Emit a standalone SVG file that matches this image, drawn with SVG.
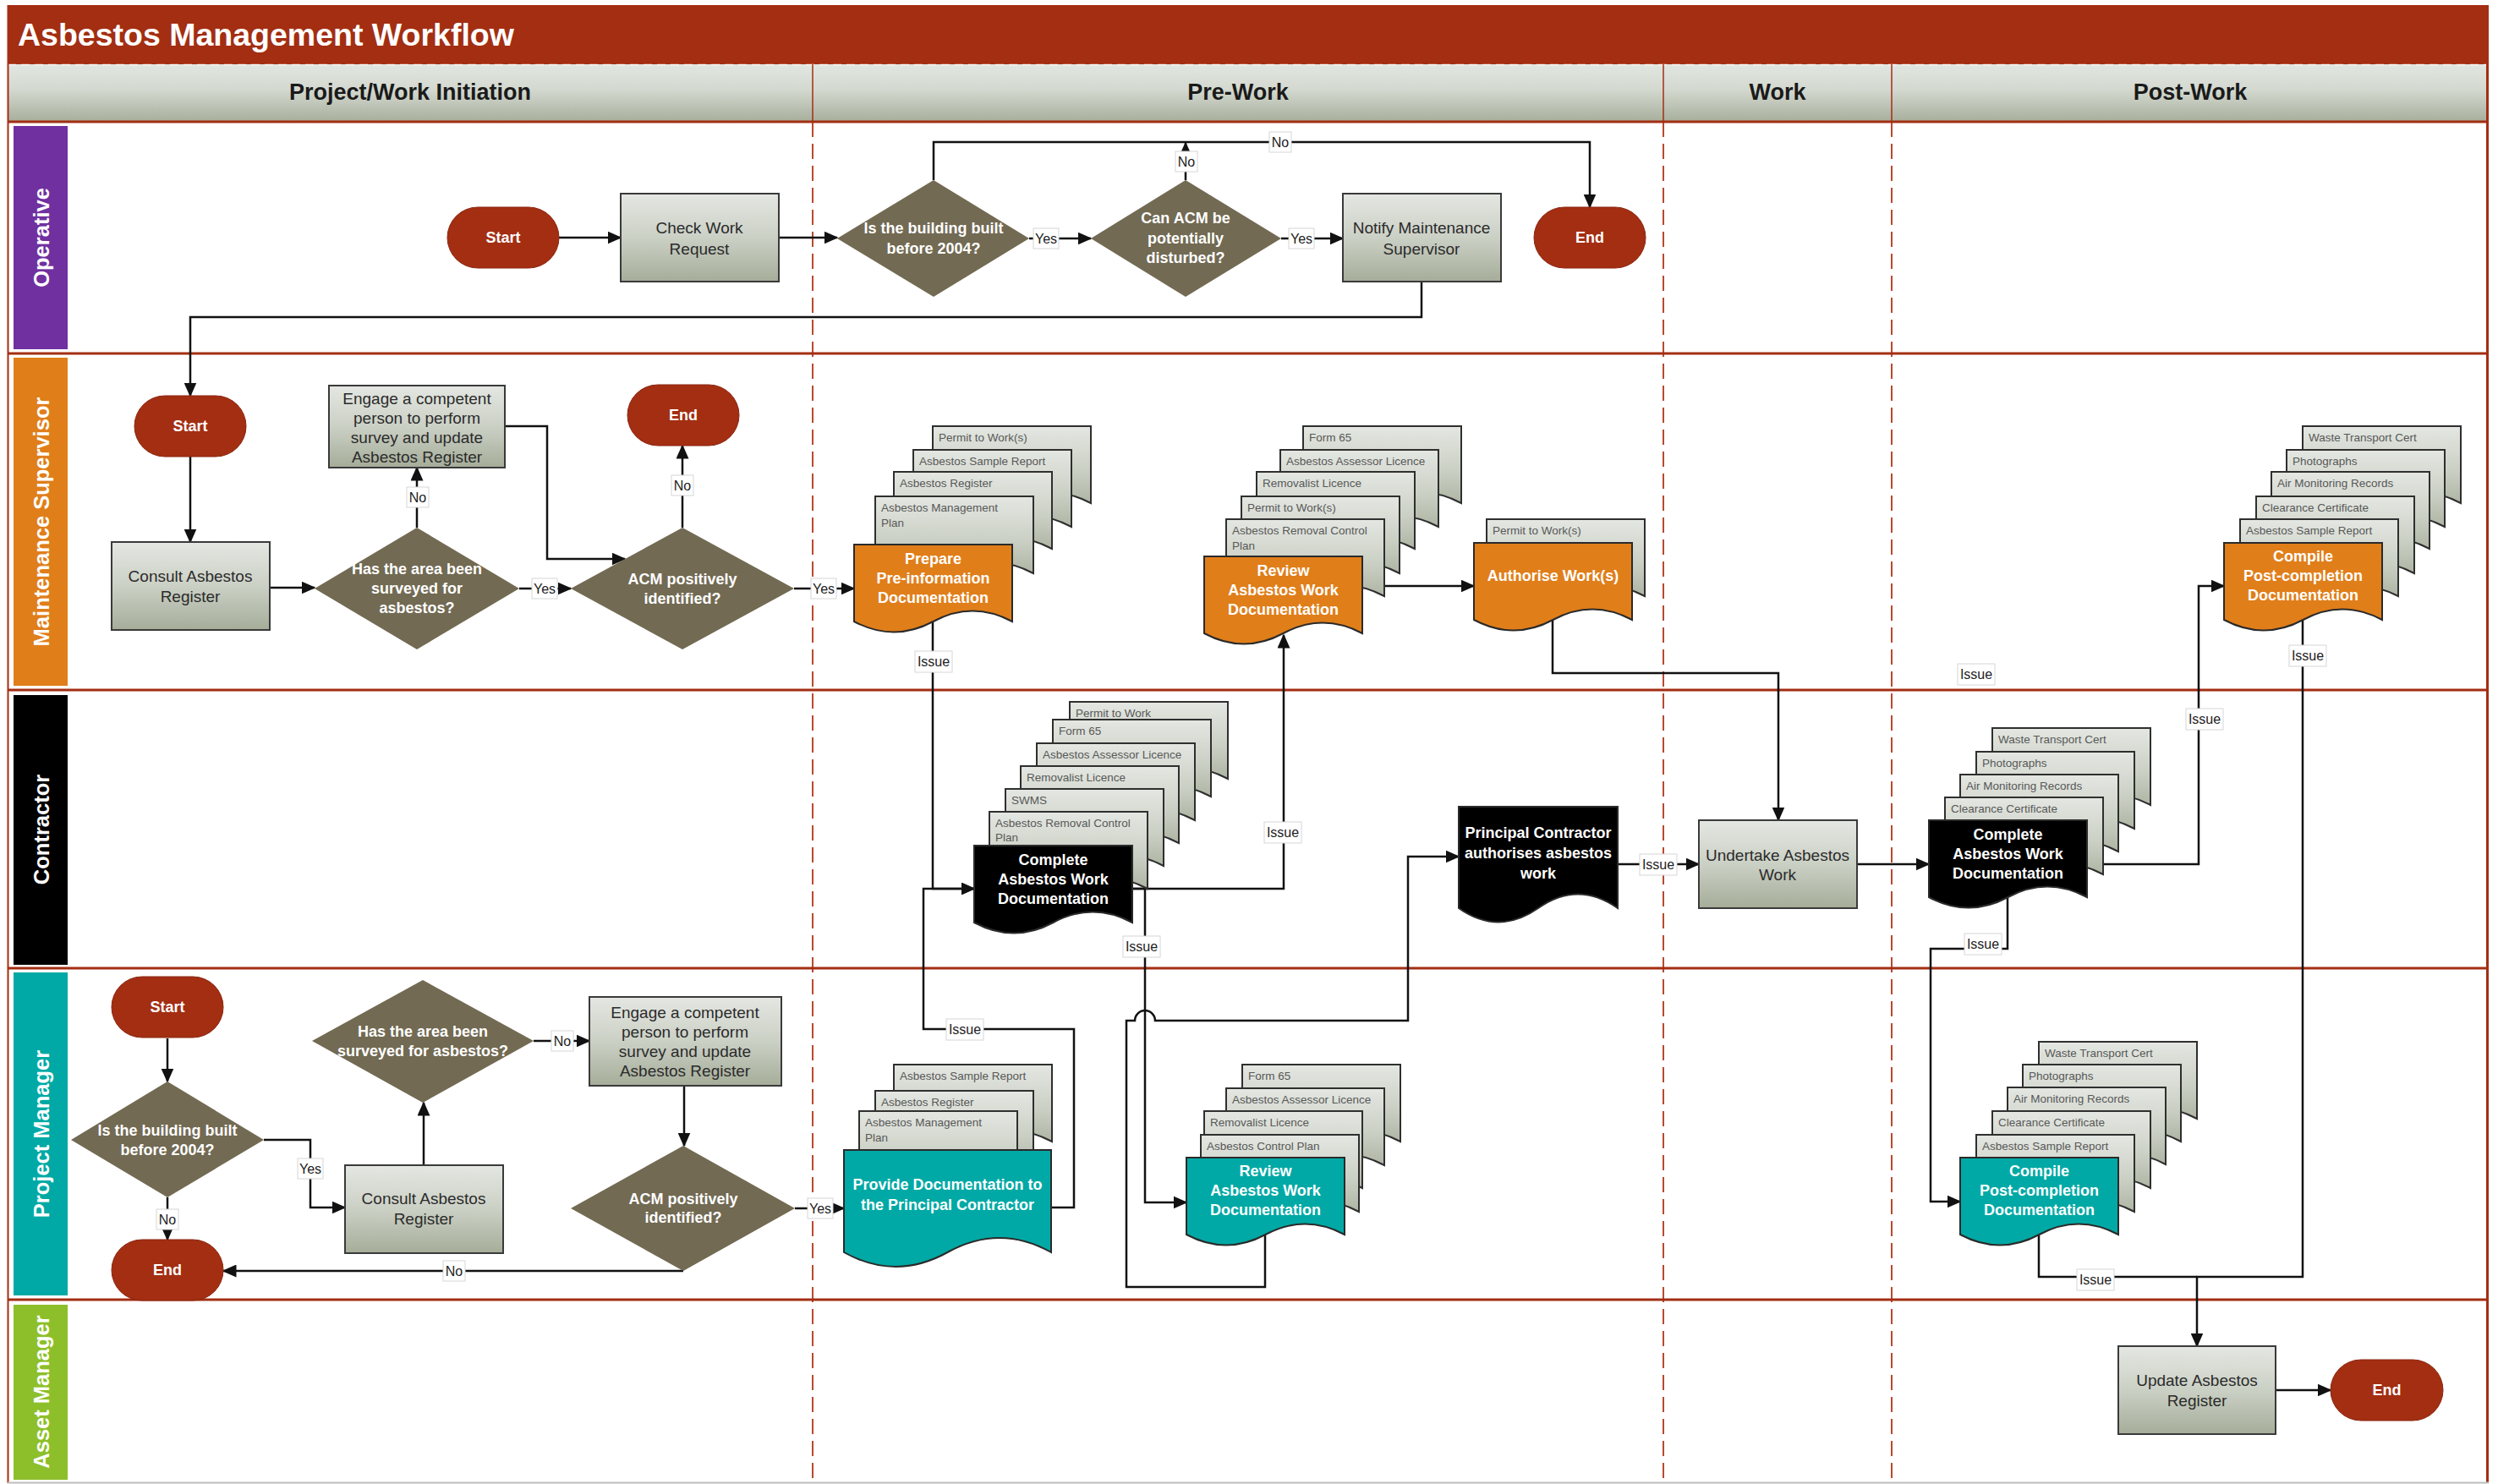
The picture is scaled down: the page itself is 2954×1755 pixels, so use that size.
<svg xmlns="http://www.w3.org/2000/svg" width="2954" height="1755" viewBox="0 0 2954 1755">
<defs>
<linearGradient id="gBox" x1="0" y1="0" x2="0" y2="1"><stop offset="0" stop-color="#E4E7E2"/><stop offset="0.5" stop-color="#CBD0C5"/><stop offset="1" stop-color="#A5AD99"/></linearGradient>
<linearGradient id="gHead" x1="0" y1="0" x2="0" y2="1"><stop offset="0" stop-color="#E2E6E1"/><stop offset="0.45" stop-color="#D3D8CF"/><stop offset="1" stop-color="#A7AE9B"/></linearGradient>
<marker id="ah" viewBox="0 0 17 15" refX="15.5" refY="7.5" markerWidth="17" markerHeight="15" markerUnits="userSpaceOnUse" orient="auto"><path d="M0,0 L17,7.5 L0,15 z" fill="#111"/></marker>
<path id="pg" d="M0,0 H187 V91 Q140,66 93.5,91 T0,91 Z"/>
<path id="docP" d="M0,0 H188 V120 Q141,87 94,120 T0,120 Z"/>
<path id="docW" d="M0,0 H245 V121 Q184,87 122.5,121 T0,121 Z"/>
<style>
text{font-family:'Liberation Sans',Arial,sans-serif}
.title{font-size:37.5px;font-weight:bold;fill:#fff}
.hd{font-size:27px;font-weight:bold;fill:#1a1a1a;text-anchor:middle}
.lane{font-size:25.5px;font-weight:bold;fill:#fff;text-anchor:middle;dominant-baseline:central}
.tb{font-size:19px;fill:#2b2b2b;text-anchor:middle;dominant-baseline:central}
.tw{font-size:18px;font-weight:bold;fill:#fff;text-anchor:middle;dominant-baseline:central}
.tp{font-size:13.5px;fill:#585858}
.tl{font-size:16px;fill:#222;text-anchor:middle;dominant-baseline:central}
.box{fill:url(#gBox);stroke:#3a3a3a;stroke-width:2}
.pg{fill:url(#gBox);stroke:#2f2f2f;stroke-width:2}
.dia{fill:#726A53}
.term{fill:#A32E12;stroke:#8a2510;stroke-width:1}
.or{fill:#E07E1A;stroke:#2a2a2a;stroke-width:2}
.bk{fill:#000;stroke:#2a2a2a;stroke-width:2}
.tl2{fill:#00A9A5;stroke:#2a2a2a;stroke-width:2}
.conn{fill:none;stroke:#111;stroke-width:2.5}
.arr{marker-end:url(#ah)}
.lb{fill:#fff;stroke:#d6d6d6;stroke-width:1}
.lanel{stroke:#A32E12;stroke-width:3}
.dash{stroke:#B9492F;stroke-width:2;stroke-dasharray:18 8}
</style>
</defs>

<!-- frame -->
<rect x="0" y="0" width="2954" height="1755" fill="#fff"/>
<rect x="9" y="6" width="2934" height="70" fill="#A32E12"/>
<text class="title" x="21" y="54">Asbestos Management Workflow</text>
<rect x="9" y="76" width="2934" height="68" fill="url(#gHead)"/>
<line x1="9" y1="76.5" x2="2943" y2="76.5" stroke="#fff" stroke-width="1.5" stroke-dasharray="10 6" opacity="0.8"/>
<g stroke="#A32E12" stroke-width="1.5">
<line x1="961" y1="76" x2="961" y2="144"/><line x1="1967" y1="76" x2="1967" y2="144"/><line x1="2237" y1="76" x2="2237" y2="144"/>
</g>
<text class="hd" x="485" y="118">Project/Work Initiation</text>
<text class="hd" x="1464" y="118">Pre-Work</text>
<text class="hd" x="2102" y="118">Work</text>
<text class="hd" x="2590" y="118">Post-Work</text>
<g class="dash">
<line x1="961" y1="144" x2="961" y2="1753"/><line x1="1967" y1="144" x2="1967" y2="1753"/><line x1="2237" y1="144" x2="2237" y2="1753"/>
</g>
<g class="lanel">
<line x1="9" y1="144" x2="2943" y2="144"/>
<line x1="9" y1="418" x2="2943" y2="418"/>
<line x1="9" y1="816" x2="2943" y2="816"/>
<line x1="9" y1="1145" x2="2943" y2="1145"/>
<line x1="9" y1="1537" x2="2943" y2="1537"/>
<line x1="2941.5" y1="6" x2="2941.5" y2="1753"/>
</g>
<line x1="9.5" y1="6" x2="9.5" y2="1754" stroke="#A32E12" stroke-width="2"/>
<line x1="9" y1="1753.5" x2="2943" y2="1753.5" stroke="#bdbdbd" stroke-width="2"/>
<rect x="16" y="149" width="64" height="264" fill="#7030A0"/>
<rect x="16" y="423" width="64" height="388" fill="#E07E1A"/>
<rect x="16" y="822" width="64" height="319" fill="#000"/>
<rect x="16" y="1150" width="64" height="382" fill="#00A9A5"/>
<rect x="16" y="1543" width="64" height="207" fill="#8DBF2A"/>
<text class="lane" transform="translate(49 281) rotate(-90)">Operative</text>
<text class="lane" transform="translate(49 617) rotate(-90)">Maintenance Supervisor</text>
<text class="lane" transform="translate(49 981) rotate(-90)">Contractor</text>
<text class="lane" transform="translate(49 1341) rotate(-90)">Project Manager</text>
<text class="lane" transform="translate(49 1646) rotate(-90)">Asset Manager</text>

<!-- connectors -->
<g id="connectors">
<path class="conn arr" d="M661,281 H734"/>
<path class="conn arr" d="M921,281 H990"/>
<path class="conn arr" d="M1217,282 H1290"/>
<path class="conn arr" d="M1515,282 H1588"/>
<path class="conn arr" d="M1104,213 V168 H1880 V245"/>
<path class="conn arr" d="M1402,213 V169"/>
<path class="conn arr" d="M1681,333 V375 H225 V468"/>
<path class="conn arr" d="M225,540 V641"/>
<path class="conn arr" d="M319,695 H372"/>
<path class="conn arr" d="M493,624 V553"/>
<path class="conn arr" d="M614,696 H675"/>
<path class="conn arr" d="M597,504 H647 V661 H739"/>
<path class="conn arr" d="M807,624 V527"/>
<path class="conn arr" d="M939,696 H1010"/>
<path class="conn arr" d="M1103,735 V1051 H1152"/>
<path class="conn arr" d="M1611,693 H1743"/>
<path class="conn arr" d="M1836,733 V796 H2103 V970"/>
<path class="conn arr" d="M1339,1051 H1518 V751"/>
<path class="conn arr" d="M1339,1051 H1354 V1422 H1403"/>
<path class="conn arr" d="M1496,1457 V1522 H1332 V1207 H1342 A12,12 0 0 1 1366,1207 H1665 V1013 H1725"/>
<path class="conn arr" d="M1913,1022 H2009"/>
<path class="conn arr" d="M2196,1022 H2281"/>
<path class="conn arr" d="M2468,1022 H2600 V693 H2630"/>
<path class="conn arr" d="M2374,1061 V1122 H2283 V1421 H2318"/>
<path class="conn arr" d="M2723,733 V1510 H2598 V1592"/>
<path class="conn" d="M2411,1460 V1510 H2598"/>
<path class="conn arr" d="M2690,1644 H2756"/>
<path class="conn arr" d="M198,1228 V1279"/>
<path class="conn arr" d="M198,1416 V1466"/>
<path class="conn arr" d="M312,1348 H367 V1428 H408"/>
<path class="conn arr" d="M501,1378 V1304"/>
<path class="conn arr" d="M631,1231 H697"/>
<path class="conn arr" d="M809,1284 V1355"/>
<path class="conn arr" d="M808,1503 H264"/>
<path class="conn arr" d="M940,1429 H998"/>
<path class="conn arr" d="M1243,1428 H1270 V1217 H1092 V1051 H1152"/>
<!-- labels -->
<rect class="lb" x="1222" y="270" width="30" height="24"/><text class="tl" x="1237" y="282">Yes</text>
<rect class="lb" x="1390" y="179" width="26" height="24"/><text class="tl" x="1403" y="191">No</text>
<rect class="lb" x="1501" y="156" width="26" height="24"/><text class="tl" x="1514" y="168">No</text>
<rect class="lb" x="1524" y="270" width="30" height="24"/><text class="tl" x="1539" y="282">Yes</text>
<rect class="lb" x="481" y="576" width="26" height="24"/><text class="tl" x="494" y="588">No</text>
<rect class="lb" x="629" y="684" width="30" height="24"/><text class="tl" x="644" y="696">Yes</text>
<rect class="lb" x="794" y="562" width="26" height="24"/><text class="tl" x="807" y="574">No</text>
<rect class="lb" x="959" y="684" width="30" height="24"/><text class="tl" x="974" y="696">Yes</text>
<rect class="lb" x="1082" y="770" width="44" height="25"/><text class="tl" x="1104" y="782">Issue</text>
<rect class="lb" x="1495" y="972" width="44" height="25"/><text class="tl" x="1517" y="984">Issue</text>
<rect class="lb" x="1328" y="1107" width="44" height="25"/><text class="tl" x="1350" y="1119">Issue</text>
<rect class="lb" x="1939" y="1010" width="44" height="25"/><text class="tl" x="1961" y="1022">Issue</text>
<rect class="lb" x="2585" y="838" width="44" height="25"/><text class="tl" x="2607" y="850">Issue</text>
<rect class="lb" x="2707" y="763" width="44" height="25"/><text class="tl" x="2729" y="775">Issue</text>
<rect class="lb" x="2315" y="785" width="44" height="25"/><text class="tl" x="2337" y="797">Issue</text>
<rect class="lb" x="2323" y="1104" width="44" height="25"/><text class="tl" x="2345" y="1116">Issue</text>
<rect class="lb" x="2456" y="1501" width="44" height="25"/><text class="tl" x="2478" y="1513">Issue</text>
<rect class="lb" x="185" y="1430" width="26" height="24"/><text class="tl" x="198" y="1442">No</text>
<rect class="lb" x="352" y="1370" width="30" height="24"/><text class="tl" x="367" y="1382">Yes</text>
<rect class="lb" x="652" y="1219" width="26" height="24"/><text class="tl" x="665" y="1231">No</text>
<rect class="lb" x="524" y="1491" width="26" height="24"/><text class="tl" x="537" y="1503">No</text>
<rect class="lb" x="955" y="1417" width="30" height="24"/><text class="tl" x="970" y="1429">Yes</text>
<rect class="lb" x="1119" y="1205" width="44" height="25"/><text class="tl" x="1141" y="1217">Issue</text>
</g>

<!-- Operative -->
<g id="op-start"><rect class="term" x="529" y="245" width="132" height="72" rx="36"/><text class="tw" x="595" y="281">Start</text></g>
<g id="op-check"><rect class="box" x="734" y="229" width="187" height="104"/><text class="tb"><tspan x="827" y="269">Check Work</tspan><tspan x="827" y="294">Request</tspan></text></g>
<g id="op-q1"><polygon class="dia" points="990,282 1104,213 1217,282 1104,351"/><text class="tw"><tspan x="1104" y="270">Is the building built</tspan><tspan x="1104" y="294">before 2004?</tspan></text></g>
<g id="op-q2"><polygon class="dia" points="1290,282 1402,213 1515,282 1402,351"/><text class="tw"><tspan x="1402" y="258">Can ACM be</tspan><tspan x="1402" y="282">potentially</tspan><tspan x="1402" y="305">disturbed?</tspan></text></g>
<g id="op-notify"><rect class="box" x="1588" y="229" width="187" height="104"/><text class="tb"><tspan x="1681" y="269">Notify Maintenance</tspan><tspan x="1681" y="294">Supervisor</tspan></text></g>
<g id="op-end"><rect class="term" x="1814" y="245" width="132" height="72" rx="36"/><text class="tw" x="1880" y="281">End</text></g>

<!-- Maintenance Supervisor -->
<g id="ms-start"><rect class="term" x="159" y="468" width="132" height="72" rx="36"/><text class="tw" x="225" y="504">Start</text></g>
<g id="ms-engage"><rect class="box" x="389" y="456" width="208" height="97"/><text class="tb"><tspan x="493" y="471">Engage a competent</tspan><tspan x="493" y="494">person to perform</tspan><tspan x="493" y="517">survey and update</tspan><tspan x="493" y="540">Asbestos Register</tspan></text></g>
<g id="ms-consult"><rect class="box" x="132" y="641" width="187" height="104"/><text class="tb"><tspan x="225" y="681">Consult Asbestos</tspan><tspan x="225" y="705">Register</tspan></text></g>
<g id="ms-q1"><polygon class="dia" points="372,696 493,624 614,696 493,768"/><text class="tw"><tspan x="493" y="673">Has the area been</tspan><tspan x="493" y="696">surveyed for</tspan><tspan x="493" y="719">asbestos?</tspan></text></g>
<g id="ms-end"><rect class="term" x="742" y="455" width="132" height="72" rx="36"/><text class="tw" x="808" y="491">End</text></g>
<g id="ms-q2"><polygon class="dia" points="675,696 807,624 939,696 807,768"/><text class="tw"><tspan x="807" y="685">ACM positively</tspan><tspan x="807" y="708">identified?</tspan></text></g>
<g id="ms-prepare">
<use href="#pg" class="pg" x="1103" y="504"/><text class="tp" x="1110" y="522">Permit to Work(s)</text>
<use href="#pg" class="pg" x="1080" y="532"/><text class="tp" x="1087" y="550">Asbestos Sample Report</text>
<use href="#pg" class="pg" x="1057" y="558"/><text class="tp" x="1064" y="576">Asbestos Register</text>
<use href="#pg" class="pg" x="1035" y="587"/><text class="tp" x="1042" y="605">Asbestos Management<tspan x="1042" dy="18">Plan</tspan></text>
<use href="#pg" class="or" x="1010" y="644"/>
<text class="tw"><tspan x="1103.5" y="661">Prepare</tspan><tspan x="1103.5" y="684">Pre-information</tspan><tspan x="1103.5" y="707">Documentation</tspan></text>
</g>
<g id="ms-review">
<use href="#pg" class="pg" x="1541" y="504"/><text class="tp" x="1548" y="522">Form 65</text>
<use href="#pg" class="pg" x="1514" y="532"/><text class="tp" x="1521" y="550">Asbestos Assessor Licence</text>
<use href="#pg" class="pg" x="1486" y="558"/><text class="tp" x="1493" y="576">Removalist Licence</text>
<use href="#pg" class="pg" x="1468" y="587"/><text class="tp" x="1475" y="605">Permit to Work(s)</text>
<use href="#pg" class="pg" x="1450" y="614"/><text class="tp" x="1457" y="632">Asbestos Removal Control<tspan x="1457" dy="18">Plan</tspan></text>
<use href="#pg" class="or" x="1424" y="658"/>
<text class="tw"><tspan x="1517.5" y="675">Review</tspan><tspan x="1517.5" y="698">Asbestos Work</tspan><tspan x="1517.5" y="721">Documentation</tspan></text>
</g>
<g id="ms-authorise">
<use href="#pg" class="pg" x="1758" y="614"/><text class="tp" x="1765" y="632">Permit to Work(s)</text>
<use href="#pg" class="or" x="1743" y="642"/>
<text class="tw" x="1836.5" y="681">Authorise Work(s)</text>
</g>
<g id="ms-compile">
<use href="#pg" class="pg" x="2723" y="504"/><text class="tp" x="2730" y="522">Waste Transport Cert</text>
<use href="#pg" class="pg" x="2704" y="532"/><text class="tp" x="2711" y="550">Photographs</text>
<use href="#pg" class="pg" x="2686" y="558"/><text class="tp" x="2693" y="576">Air Monitoring Records</text>
<use href="#pg" class="pg" x="2668" y="587"/><text class="tp" x="2675" y="605">Clearance Certificate</text>
<use href="#pg" class="pg" x="2649" y="614"/><text class="tp" x="2656" y="632">Asbestos Sample Report</text>
<use href="#pg" class="or" x="2630" y="642"/>
<text class="tw"><tspan x="2723.5" y="658">Compile</tspan><tspan x="2723.5" y="681">Post-completion</tspan><tspan x="2723.5" y="704">Documentation</tspan></text>
</g>

<!-- Contractor -->
<g id="c-complete">
<use href="#pg" class="pg" x="1265" y="830"/><text class="tp" x="1272" y="848">Permit to Work</text>
<use href="#pg" class="pg" x="1245" y="851"/><text class="tp" x="1252" y="869">Form 65</text>
<use href="#pg" class="pg" x="1226" y="879"/><text class="tp" x="1233" y="897">Asbestos Assessor Licence</text>
<use href="#pg" class="pg" x="1207" y="906"/><text class="tp" x="1214" y="924">Removalist Licence</text>
<use href="#pg" class="pg" x="1189" y="933"/><text class="tp" x="1196" y="951">SWMS</text>
<use href="#pg" class="pg" x="1170" y="960"/><text class="tp" x="1177" y="978">Asbestos Removal Control<tspan x="1177" dy="17">Plan</tspan></text>
<use href="#pg" class="bk" x="1152" y="1000"/>
<text class="tw"><tspan x="1245.5" y="1017">Complete</tspan><tspan x="1245.5" y="1040">Asbestos Work</tspan><tspan x="1245.5" y="1063">Documentation</tspan></text>
</g>
<g id="c-principal">
<use href="#docP" class="bk" x="1725" y="954"/>
<text class="tw"><tspan x="1819" y="985">Principal Contractor</tspan><tspan x="1819" y="1009">authorises asbestos</tspan><tspan x="1819" y="1033">work</tspan></text>
</g>
<g id="c-undertake"><rect class="box" x="2009" y="970" width="187" height="104"/><text class="tb"><tspan x="2102" y="1011">Undertake Asbestos</tspan><tspan x="2102" y="1034">Work</tspan></text></g>
<g id="c-complete-post">
<use href="#pg" class="pg" x="2356" y="861"/><text class="tp" x="2363" y="879">Waste Transport Cert</text>
<use href="#pg" class="pg" x="2337" y="889"/><text class="tp" x="2344" y="907">Photographs</text>
<use href="#pg" class="pg" x="2318" y="916"/><text class="tp" x="2325" y="934">Air Monitoring Records</text>
<use href="#pg" class="pg" x="2300" y="943"/><text class="tp" x="2307" y="961">Clearance Certificate</text>
<use href="#pg" class="bk" x="2281" y="970"/>
<text class="tw"><tspan x="2374.5" y="987">Complete</tspan><tspan x="2374.5" y="1010">Asbestos Work</tspan><tspan x="2374.5" y="1033">Documentation</tspan></text>
</g>

<!-- Project Manager -->
<g id="pm-start"><rect class="term" x="132" y="1155" width="132" height="72" rx="36"/><text class="tw" x="198" y="1191">Start</text></g>
<g id="pm-q1"><polygon class="dia" points="84,1348 198,1279 312,1348 198,1416"/><text class="tw"><tspan x="198" y="1337">Is the building built</tspan><tspan x="198" y="1360">before 2004?</tspan></text></g>
<g id="pm-end"><rect class="term" x="132" y="1466" width="132" height="72" rx="36"/><text class="tw" x="198" y="1502">End</text></g>
<g id="pm-consult"><rect class="box" x="408" y="1378" width="187" height="104"/><text class="tb"><tspan x="501" y="1417">Consult Asbestos</tspan><tspan x="501" y="1441">Register</tspan></text></g>
<g id="pm-q2"><polygon class="dia" points="369,1231 500,1159 631,1231 500,1304"/><text class="tw"><tspan x="500" y="1220">Has the area been</tspan><tspan x="500" y="1243">surveyed for asbestos?</tspan></text></g>
<g id="pm-engage"><rect class="box" x="697" y="1179" width="227" height="105"/><text class="tb"><tspan x="810" y="1197">Engage a competent</tspan><tspan x="810" y="1220">person to perform</tspan><tspan x="810" y="1243">survey and update</tspan><tspan x="810" y="1266">Asbestos Register</tspan></text></g>
<g id="pm-q3"><polygon class="dia" points="675,1429 808,1355 940,1429 808,1503"/><text class="tw"><tspan x="808" y="1418">ACM positively</tspan><tspan x="808" y="1440">identified?</tspan></text></g>
<g id="pm-provide">
<use href="#pg" class="pg" x="1057" y="1259"/><text class="tp" x="1064" y="1277">Asbestos Sample Report</text>
<use href="#pg" class="pg" x="1035" y="1290"/><text class="tp" x="1042" y="1308">Asbestos Register</text>
<use href="#pg" class="pg" x="1016" y="1314"/><text class="tp" x="1023" y="1332">Asbestos Management<tspan x="1023" dy="18">Plan</tspan></text>
<use href="#docW" class="tl2" x="998" y="1360"/>
<text class="tw"><tspan x="1120.5" y="1401">Provide Documentation to</tspan><tspan x="1120.5" y="1425">the Principal Contractor</tspan></text>
</g>
<g id="pm-review">
<use href="#pg" class="pg" x="1469" y="1259"/><text class="tp" x="1476" y="1277">Form 65</text>
<use href="#pg" class="pg" x="1450" y="1287"/><text class="tp" x="1457" y="1305">Asbestos Assessor Licence</text>
<use href="#pg" class="pg" x="1424" y="1314"/><text class="tp" x="1431" y="1332">Removalist Licence</text>
<use href="#pg" class="pg" x="1420" y="1342"/><text class="tp" x="1427" y="1360">Asbestos Control Plan</text>
<use href="#pg" class="tl2" x="1403" y="1369"/>
<text class="tw"><tspan x="1496.5" y="1385">Review</tspan><tspan x="1496.5" y="1408">Asbestos Work</tspan><tspan x="1496.5" y="1431">Documentation</tspan></text>
</g>
<g id="pm-compile">
<use href="#pg" class="pg" x="2411" y="1232"/><text class="tp" x="2418" y="1250">Waste Transport Cert</text>
<use href="#pg" class="pg" x="2392" y="1259"/><text class="tp" x="2399" y="1277">Photographs</text>
<use href="#pg" class="pg" x="2374" y="1286"/><text class="tp" x="2381" y="1304">Air Monitoring Records</text>
<use href="#pg" class="pg" x="2356" y="1314"/><text class="tp" x="2363" y="1332">Clearance Certificate</text>
<use href="#pg" class="pg" x="2337" y="1342"/><text class="tp" x="2344" y="1360">Asbestos Sample Report</text>
<use href="#pg" class="tl2" x="2318" y="1369"/>
<text class="tw"><tspan x="2411.5" y="1385">Compile</tspan><tspan x="2411.5" y="1408">Post-completion</tspan><tspan x="2411.5" y="1431">Documentation</tspan></text>
</g>

<!-- Asset Manager -->
<g id="am-update"><rect class="box" x="2505" y="1592" width="186" height="104"/><text class="tb"><tspan x="2598" y="1632">Update Asbestos</tspan><tspan x="2598" y="1656">Register</tspan></text></g>
<g id="am-end"><rect class="term" x="2756" y="1608" width="133" height="72" rx="36"/><text class="tw" x="2822.5" y="1644">End</text></g>
</svg>
